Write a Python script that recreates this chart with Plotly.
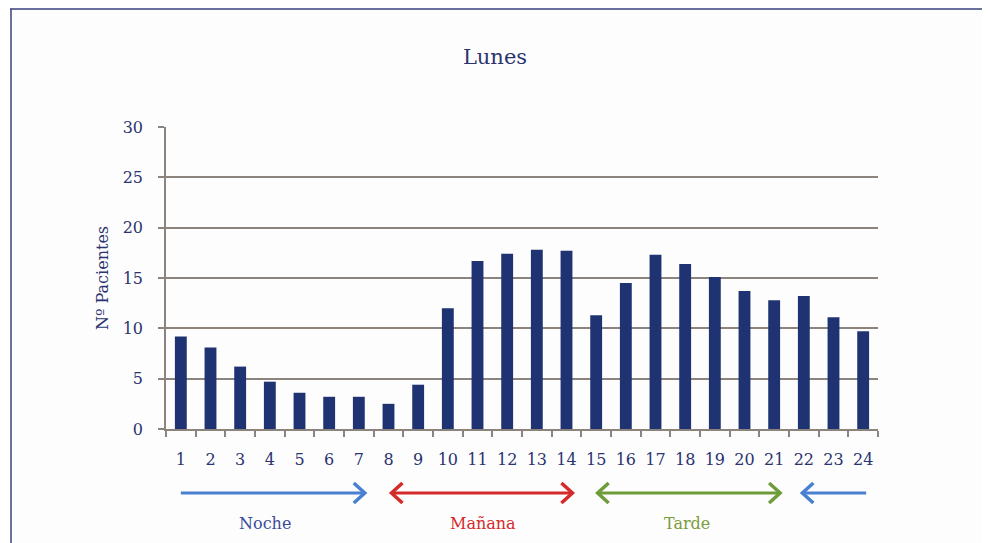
import plotly.graph_objects as go

# Hourly patient counts on Monday
hours = [str(h) for h in range(1, 25)]
patients = [9.2, 8.1, 6.2, 4.7, 3.6, 3.2, 3.2, 2.5, 4.4, 12.0, 16.7, 17.4,
            17.8, 17.7, 11.3, 14.5, 17.3, 16.4, 15.1, 13.7, 12.8, 13.2, 11.1, 9.7]

shift_labels = ["Noche", "Mañana", "Tarde"]
shift_label_pos = [3.84, 11.18, 18.06]
shift_text_colors = ["#3c4c98", "#d42a2a", "#7a9c3c"]
# (start pos, end pos, colour, head at start, head at end)
arrows = [
    (1.0, 7.2, "#4a80d0", False, True),
    (8.1, 14.2, "#d42a2a", True, True),
    (15.05, 21.2, "#6e9c3a", True, True),
    (21.95, 24.1, "#4a80d0", True, False),
]

W, H = 990, 543
OFF = 8  # page body margin
# plot area in screen pixels: x 166..878, y 127..429
L, T = 166 - OFF, 127 - OFF
R, B = W - (878 - OFF), H - (429 - OFF)
pw, ph = W - L - R, H - T - B
navy = "#2b3370"
grid = "#8c847c"
serif = "DejaVu Serif, serif"


def sy(py):
    # screen y pixel -> paper y
    return (429 - py) / ph


def sx(px):
    return (px - 166) / pw


def hx_pos(v):
    # hour position -> paper x (categories at 1..24)
    return (v - 0.5) / 24


fig = go.Figure()
fig.add_trace(go.Bar(x=hours, y=patients, marker=dict(color="#1f3372", line=dict(width=0)),
                     width=0.4, hoverinfo="x+y"))

arrow_y = sy(493)
label_y = sy(523)
hx, hy = 11 / pw, 10 / ph

for x0, x1, col, h0, h1 in arrows:
    a, b = hx_pos(x0), hx_pos(x1)
    fig.add_shape(type="line", xref="paper", yref="paper", x0=a, x1=b, y0=arrow_y, y1=arrow_y,
                  line=dict(color=col, width=3))
    if h1:
        fig.add_shape(type="path", xref="paper", yref="paper",
                      path=f"M {b-hx},{arrow_y+hy} L {b},{arrow_y} L {b-hx},{arrow_y-hy}",
                      line=dict(color=col, width=3.5))
    if h0:
        fig.add_shape(type="path", xref="paper", yref="paper",
                      path=f"M {a+hx},{arrow_y+hy} L {a},{arrow_y} L {a+hx},{arrow_y-hy}",
                      line=dict(color=col, width=3.5))

for lab, pos, col in zip(shift_labels, shift_label_pos, shift_text_colors):
    fig.add_annotation(x=hx_pos(pos), y=label_y, xref="paper", yref="paper", text=lab,
                       xanchor="center", yanchor="middle", showarrow=False,
                       font=dict(family=serif, size=16, color=col))

# outer document frame
fig.add_shape(type="line", xref="paper", yref="paper",
              x0=sx(10), x1=sx(1000), y0=sy(9), y1=sy(9),
              line=dict(color="#3a3f7a", width=1.5))
fig.add_shape(type="line", xref="paper", yref="paper",
              x0=sx(11), x1=sx(11), y0=sy(9), y1=sy(560),
              line=dict(color="#3a3f7a", width=1.5))

fig.update_layout(
    width=W, height=H,
    margin=dict(l=L, r=R, t=T, b=B),
    paper_bgcolor="#fdfdfd", plot_bgcolor="#fdfdfd",
    title=dict(text="Lunes", x=(495 - OFF) / W, xanchor="center", y=1 - (57 - OFF) / H,
               yanchor="middle", font=dict(family=serif, size=21, color=navy)),
    showlegend=False,
    xaxis=dict(type="category", tickson="boundaries", ticks="outside", ticklen=6,
               tickcolor=grid, tickwidth=1.5, showline=True, linecolor=grid, linewidth=1.5,
               showgrid=False, ticklabelstandoff=15, tickangle=0,
               tickfont=dict(family=serif, size=16, color=navy)),
    yaxis=dict(range=[0, 30], dtick=5, showgrid=True, gridcolor=grid, gridwidth=1.5,
               showline=True, linecolor=grid, linewidth=1.5, ticks="outside", ticklen=6,
               tickcolor=grid, tickwidth=1.5, zeroline=False, ticklabelstandoff=12,
               tickfont=dict(family=serif, size=16, color=navy),
               title=dict(text="Nº Pacientes", font=dict(family=serif, size=16, color=navy),
                          standoff=10)),
)

fig.write_html("out.html")
